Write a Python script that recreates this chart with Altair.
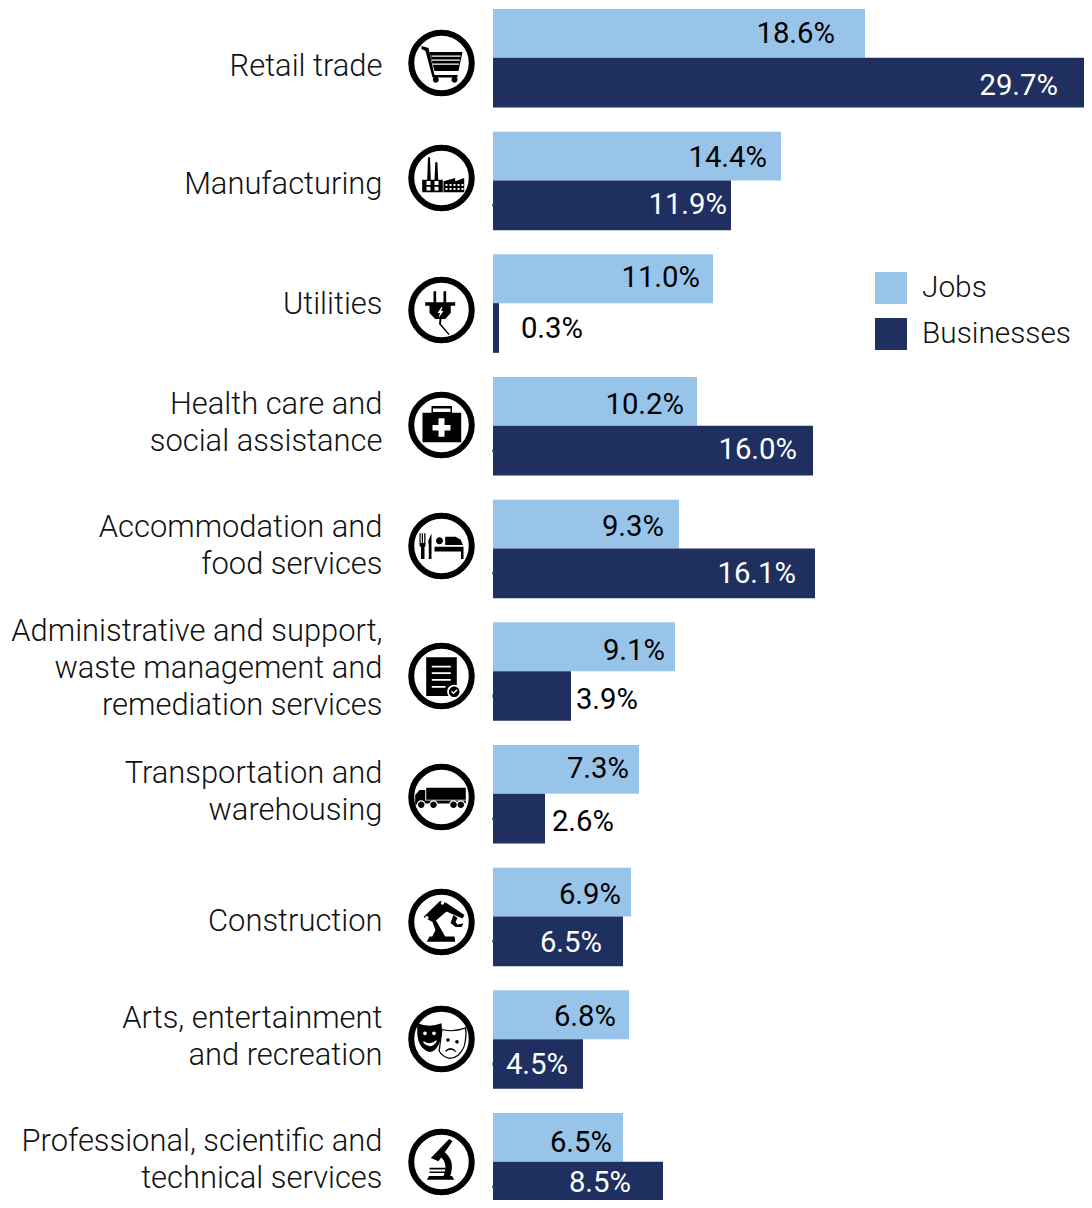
import altair as alt
import pandas as pd

# ---- chart values ----
CATEGORIES = ["Retail trade", "Manufacturing", "Utilities", "Health care and|social assistance",
              "Accommodation and|food services",
              "Administrative and support,|waste management and|remediation services",
              "Transportation and|warehousing", "Construction", "Arts, entertainment|and recreation",
              "Professional, scientific and|technical services"]
JOBS = [18.6, 14.4, 11.0, 10.2, 9.3, 9.1, 7.3, 6.9, 6.8, 6.5]
BUSINESSES = [29.7, 11.9, 0.3, 16.0, 16.1, 3.9, 2.6, 6.5, 4.5, 8.5]
SERIES = ["Jobs", "Businesses"]
COLORS = ["#99C4EA", "#1F3060"]
STUB_ROWS = [1, 3, 4, 5, 6, 7, 8, 9]

# ---- layout, in page pixels, converted to scale units below ----
X0_PAGE, PX_PER_PCT = 493, 20.0
Y0_PAGE, ROW_STEP = 9.0, 122.67
JOB_LABEL_END = [835, 767, 700, 684, 664, 665, 629, 621, 616, 612]
BIZ_LABEL_END = [1058, 727, 583, 797, 796, 638, 614, 602, 568, 631]
JOB_LABEL_Y = [33, 157, 277, 404, 526, 650, 768, 894, 1016, 1142]
BIZ_LABEL_Y = [85, 204, 328, 449, 573, 699, 821, 942, 1064, 1182]
BIZ_LABEL_COLOR = ["white", "white", "black", "white", "white", "black", "black", "white", "white", "white"]
CAT_LABEL_Y = [65, 183, 303, 403, 526, 630, 772, 920, 1017, 1140]
ICON_Y = [63, 178, 310, 425, 546, 676, 797, 922, 1039, 1162]
ICON_X, CAT_RIGHT = 441.5, 382.5
W, H = 1076, 1192


def xu(page):
    return (page - X0_PAGE) / PX_PER_PCT


def yu(page):
    return (page - Y0_PAGE) / ROW_STEP


# ---- icon glyphs, drawn around their centre ----
def poly(*pts):
    return "M" + " L".join(f"{x},{y}" for x, y in pts) + " Z "


def rect(x0, y0, x1, y1):
    return poly((x0, y0), (x1, y0), (x1, y1), (x0, y1))


def disc(cx, cy, r):
    return f"M{cx - r},{cy} A{r},{r} 0 1,1 {cx + r},{cy} A{r},{r} 0 1,1 {cx - r},{cy} Z "


ICONS = [
    [("black", poly((-20, -17), (-13, -15), (-7, 12), (16, 12), (16, 14.5), (-9, 14.5), (-16, -12), (-20, -14))
      + poly((-12, -11), (21, -11), (17, 8), (-7, 8)) + disc(-5.7, 16.7, 3) + disc(13, 16.7, 3)),
     ("white", rect(-10, -7.5, 19, -6.3) + rect(-9.5, -3.5, 18.3, -2.3) + rect(-8.5, 0.5, 17.5, 1.7))],
    [("black", poly((-14.3, 2), (-13.5, -20.7), (-11.5, -20.7), (-10.7, 2)) + poly((-7, 2), (-6.2, -15.7), (-4.1, -15.7), (-3.3, 2))
      + rect(-19.3, 1.7, 1.3, 14.3) + poly((2, 14.3), (2, 3.3), (13.7, 0), (13.7, 3.3), (22.7, 0), (22.7, 14.3))),
     ("white", rect(-15, 3, -11, 7) + rect(-7, 3, -3, 7) + rect(-15, 8.7, -11, 12.5) + rect(-7, 8.7, -3, 12.5)
      + "".join(rect(x, y, x + 2, y + 2) for x in (4, 8, 12, 16, 20) for y in (6, 10)))],
    [("black", rect(-8, -18.7, -5.3, -7.7) + rect(2, -18.7, 4.7, -7.7) + rect(-16.3, -7.7, 13.7, -4.3)
      + poly((-12, -4.3), (9.3, -4.3), (9.3, 3), (3.7, 9), (-6.3, 9), (-12, 3))
      + poly((-2, 9), (0, 9), (-0.5, 14), (8, 24), (7, 25), (-2.5, 14))),
     ("white", poly((0, -3), (-4, 3), (-1.5, 3), (-3, 8), (2, 1), (-0.5, 1), (1, -3)))],
    [("black", rect(-19, -12.3, 19.7, 17.3) + rect(-10, -19, 10.5, -12)),
     ("white", rect(-8.5, -16.5, 9, -13) + rect(-9, 0, 9, 5.5) + rect(-3, -6.7, 3, 11.7))],
    [("black", rect(-22, -12.7, -20.8, -3) + rect(-19.7, -12.7, -18.5, -3) + rect(-17.3, -12.7, -16, -3)
      + poly((-22, -3), (-16, -3), (-16, 0), (-17, 1), (-17, 13), (-20.5, 13), (-20.5, 1), (-22, 0))
      + poly((-10, -12.7), (-10, 13), (-12.7, 13), (-12.7, 0), (-13.3, -5))
      + disc(-2, -5.3, 3.5) + poly((3.7, -9.3), (14, -9.3), (19, -6.5), (21.5, -1), (3.7, -1))
      + poly((-7, 0.7), (22, 0.7), (22, 13), (19.5, 13), (19.5, 5.5), (-7, 5.5)))],
    [("black", rect(-15.3, -18.7, 15.3, 20)),
     ("white", rect(-9.7, -10.3, 9.3, -8.6) + rect(-9.7, -3.7, 9.3, -2) + rect(-9.7, 3, 9.3, 4.7) + rect(-9.7, 10, 4, 11.7)
      + disc(12.7, 15.7, 7)),
     ("black", disc(12.7, 15.7, 5.3)),
     ("white", poly((9.5, 15.7), (10.5, 14.7), (12, 16.3), (15.2, 13.2), (16.1, 14.2), (12, 18.2)))],
    [("black", rect(-15.3, -9.3, 24.3, 2.7) + poly((-26.3, 8), (-26.3, -2), (-22, -7), (-16.3, -7), (-16.3, 4)) + rect(-26.3, 3.5, 24.3, 6.5)),
     ("white", disc(-20.3, 7.7, 4.4) + disc(-8, 7.7, 4.4) + disc(12, 7.7, 4.4) + disc(19.3, 7.7, 4.4)),
     ("black", disc(-20.3, 7.7, 3.3) + disc(-8, 7.7, 3.3) + disc(12, 7.7, 3.3) + disc(19.3, 7.7, 3.3))],
    [("black", poly((-14.7, 19.7), (-12, 14.5), (13, 14.5), (13.7, 19.7))
      + poly((-18, -5), (-1.5, -21), (5, -19), (23, -7), (21, -3.5), (5, -10.5), (-5.5, -1.5), (4, 15), (-9.5, 15), (-6, 8), (-9, 0))
      + poly((12, -7), (16, -4), (14, 0), (16, 2.5), (22, 1.5), (20, 5), (14, 5), (9, 1))),
     ("white", disc(-14.7, -4.3, 1.7) + disc(1, -19, 1.7))],
    [("black", "M0,-10 Q12,-7 24.7,-12 Q26,-2 23,8 Q18,20 8,20 Q0,18 -3,12 Z "),
     ("white", "M1,-8.7 Q12,-6 23.5,-10.3 Q24.5,-2 22,7.5 Q17,18.7 8,18.7 Q1,17 -1.7,12 Z "),
     ("black", disc(6.5, 1, 1.8) + disc(15.5, 2.7, 1.8) + "M3.5,12 Q9,6 15,12.5 L14,13 Q9,8.5 4.5,12.7 Z "
      + "M-24,-15.7 Q-12,-11 0,-15.7 Q1.5,-5 -2,4 Q-6,13 -12,13 Q-20,11 -23,2 Q-25,-6 -24,-15.7 Z "),
     ("white", disc(-16.5, -5.7, 1.9) + disc(-7.5, -5.7, 1.9) + "M-18,2 Q-11,7 -5,1 L-5,3 Q-11,11 -18,4 Z ")],
    [("black", poly((-14.7, 17.7), (-12.5, 14), (10.5, 14), (12.7, 17.7))
      + poly((7.7, -23), (11, -20.7), (-3, -0.7), (-10.7, -4))
      + "M3,-10 Q14,-1 8.7,14 L2,14 Q7,1 -1,-5 Z " + rect(-12, 5.7, 3.7, 7.4) + rect(-12, 9.4, 3.7, 11))],
]

# ---- tables ----
BIZ_TOP, BIZ_BOTTOM = 0.398, 0.803
bars = pd.DataFrame({
    "series": SERIES[0:1] * 10 + SERIES[1:2] * 10,
    "value": JOBS + BUSINESSES,
    "top": [r + 0.0 for r in range(10)] + [r + BIZ_TOP for r in range(10)],
    "bottom": [r + BIZ_TOP for r in range(10)] + [r + BIZ_BOTTOM for r in range(10)],
})
labels = pd.DataFrame({
    "text": [f"{v:.1f}%" for v in JOBS + BUSINESSES],
    "x": [xu(p) for p in JOB_LABEL_END + BIZ_LABEL_END],
    "y": [yu(p) for p in JOB_LABEL_Y + BIZ_LABEL_Y],
    "fill": ["black"] * 10 + BIZ_LABEL_COLOR,
})
cats = pd.DataFrame({"lines": [c.split("|") for c in CATEGORIES],
                     "x": [xu(CAT_RIGHT)] * 10,
                     "y": [yu(p) for p in CAT_LABEL_Y]})
rings = pd.DataFrame({"x": [xu(ICON_X)] * 10, "y": [yu(p) for p in ICON_Y]})
stubs = pd.DataFrame({"x": [xu(492)] * len(STUB_ROWS), "x2": [xu(493)] * len(STUB_ROWS),
                      "y": [r + (BIZ_TOP + BIZ_BOTTOM) / 2 for r in STUB_ROWS]})
glyph_rows = []
for i, layers in enumerate(ICONS):
    for color, path in layers:
        glyph_rows.append({"x": xu(ICON_X), "y": yu(ICON_Y[i]), "fill": color, "path": path})
glyphs = pd.DataFrame(glyph_rows)

# ---- scales ----
x_scale = alt.Scale(domain=[xu(8), xu(8 + W)], zero=False, nice=False)
y_scale = alt.Scale(domain=[yu(8), yu(8 + H)], zero=False, nice=False, reverse=True)
X = alt.X("x:Q", scale=x_scale, axis=None)
Y = alt.Y("y:Q", scale=y_scale, axis=None)

bar_layer = alt.Chart(bars).mark_rect().encode(
    x=alt.X("x0:Q", scale=x_scale, axis=None),
    x2="value:Q",
    y=alt.Y("top:Q", scale=y_scale, axis=None),
    y2="bottom:Q",
    color=alt.Color("series:N", scale=alt.Scale(domain=SERIES, range=COLORS), sort=SERIES,
                    legend=alt.Legend(orient="none", legendX=867, legendY=264, title=None,
                                      symbolType="square", symbolSize=1024, symbolStrokeWidth=0,
                                      symbolOpacity=1, labelFontSize=29.8, labelFont="Roboto",
                                      labelFontWeight=300, labelColor="#111111", labelOffset=15,
                                      rowPadding=14, labelLimit=300, clipHeight=32)),
).transform_calculate(x0="0")

stub_layer = alt.Chart(stubs).mark_rule(color="#888888", strokeWidth=3).encode(x=X, x2="x2:Q", y=Y)

value_text = alt.Chart(labels).mark_text(font="Roboto", fontSize=29.3, align="right", baseline="middle",
                                         dy=0.7).encode(
    x=X, y=Y, text="text:N", fill=alt.Fill("fill:N", scale=None))

cat_text = alt.Chart(cats).mark_text(font="Roboto", fontWeight=300, fontSize=30.9, align="right",
                                     baseline="middle", lineHeight=37, color="#111111", dy=2).encode(
    x=X, y=Y, text="lines")

ring_layer = alt.Chart(rings).mark_point(shape="circle", size=60.5 ** 2, filled=False,
                                         stroke="black", strokeWidth=6, opacity=1).encode(x=X, y=Y)

glyph_layer = alt.Chart(glyphs).mark_point(size=4, filled=True, opacity=1).encode(
    x=X, y=Y, shape=alt.Shape("path:N", scale=None), fill=alt.Fill("fill:N", scale=None))

chart = alt.layer(bar_layer, stub_layer, value_text, cat_text, ring_layer, glyph_layer).properties(
    width=W, height=H, padding=0, autosize=alt.AutoSizeParams(type="none")
).configure_view(stroke=None)

chart.save("out.html", embed_options={"renderer": "svg", "actions": False})
